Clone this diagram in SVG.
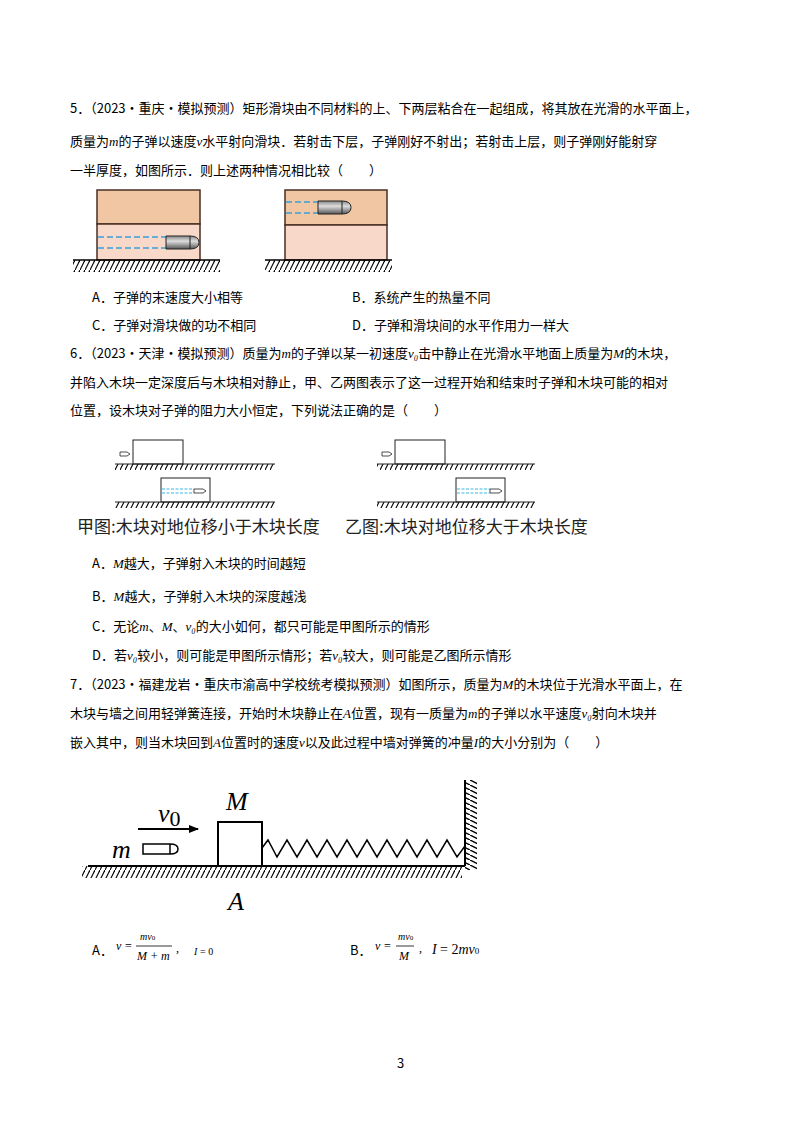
<svg xmlns="http://www.w3.org/2000/svg" width="800" height="1132" viewBox="0 0 800 1132">
<defs>
<style>
.t{font-family:"Noto Sans CJK SC","Noto Sans",sans-serif;font-size:13px;fill:#000}
.c{font-family:"Noto Sans CJK SC",sans-serif;font-size:17px;fill:#222}
.m{font-family:"Liberation Serif",serif;font-style:italic}
.bl{stroke:#4a2f25;stroke-width:1.5}
.ds{stroke:#3aa0d8;stroke-width:1.5;stroke-dasharray:6 3}
.ds2{stroke:#3ab8e0;stroke-width:1;stroke-dasharray:3 1.5}
</style>
<pattern id="h" width="5" height="10" patternUnits="userSpaceOnUse"><line x1="5" y1="0" x2="0" y2="10" stroke="#000" stroke-width="1.2"/></pattern>
<pattern id="hw" width="10" height="5" patternUnits="userSpaceOnUse"><line x1="0" y1="0" x2="10" y2="5" stroke="#000" stroke-width="1.4"/></pattern>
<linearGradient id="g" x1="0" y1="0" x2="0" y2="1"><stop offset="0" stop-color="#888"/><stop offset="0.4" stop-color="#ddd"/><stop offset="1" stop-color="#555"/></linearGradient>
<marker id="ar" markerWidth="10" markerHeight="8" refX="9" refY="4" orient="auto" markerUnits="userSpaceOnUse"><path d="M0,0 L10,4 L0,8 Z" fill="#000"/></marker>
</defs>

<g id="q5text">
<text class="t" x="70" y="113">5．（2023·重庆·模拟预测）矩形滑块由不同材料的上、下两层粘合在一起组成，将其放在光滑的水平面上，</text>
<text class="t" x="70" y="146">质量为<tspan class="m">m</tspan>的子弹以速度<tspan class="m">v</tspan>水平射向滑块．若射击下层，子弹刚好不射出；若射击上层，则子弹刚好能射穿</text>
<text class="t" x="70" y="175">一半厚度，如图所示．则上述两种情况相比较（　　）</text>
</g>
<g id="fig1">
<rect x="97" y="190" width="103" height="34" fill="#f0c7a2" class="bl"/>
<rect x="97" y="224" width="103" height="36" fill="#f8d8c8" class="bl"/>
<line x1="98" y1="237" x2="166" y2="237" class="ds"/><line x1="98" y1="248" x2="166" y2="248" class="ds"/>
<path d="M166,236 h24 q9,0 9,6.5 q0,6.5 -9,6.5 h-24 Z" fill="url(#g)" stroke="#222"/>
<line x1="190" y1="236" x2="190" y2="249" stroke="#222"/>
<rect x="73" y="260" width="147" height="12" fill="url(#h)"/><line x1="73" y1="260" x2="220" y2="260" stroke="#000" stroke-width="1.5"/>
<rect x="285" y="190" width="102" height="35" fill="#f0c7a2" class="bl"/>
<rect x="285" y="225" width="102" height="35" fill="#f8d8c8" class="bl"/>
<line x1="286" y1="202" x2="318" y2="202" class="ds"/><line x1="286" y1="213" x2="318" y2="213" class="ds"/>
<path d="M318,201 h24 q9,0 9,6.5 q0,6.5 -9,6.5 h-24 Z" fill="url(#g)" stroke="#222"/>
<line x1="342" y1="201" x2="342" y2="214" stroke="#222"/>
<rect x="265" y="260" width="127" height="12" fill="url(#h)"/><line x1="265" y1="260" x2="392" y2="260" stroke="#000" stroke-width="1.5"/>
</g>
<g id="q5opts">
<text class="t" x="92" y="302">A．子弹的末速度大小相等</text>
<text class="t" x="352" y="302">B．系统产生的热量不同</text>
<text class="t" x="92" y="330">C．子弹对滑块做的功不相同</text>
<text class="t" x="352" y="330">D．子弹和滑块间的水平作用力一样大</text>
</g>
<g id="q6text">
<text class="t" x="70" y="358">6．（2023·天津·模拟预测）质量为<tspan class="m">m</tspan>的子弹以某一初速度<tspan class="m">v₀</tspan>击中静止在光滑水平地面上质量为<tspan class="m">M</tspan>的木块，</text>
<text class="t" x="70" y="387">并陷入木块一定深度后与木块相对静止，甲、乙两图表示了这一过程开始和结束时子弹和木块可能的相对</text>
<text class="t" x="70" y="415">位置，设木块对子弹的阻力大小恒定，下列说法正确的是（　　）</text>
</g>
<g id="fig2">
<rect x="133" y="440" width="50" height="24" fill="none" stroke="#222"/>
<path d="M120,452 h7 l3,2 l-3,2 h-7 Z" fill="#fff" stroke="#222" stroke-width="0.8"/>
<rect x="115" y="464" width="160" height="6" fill="url(#h)"/><line x1="115" y1="464" x2="275" y2="464" stroke="#222"/>
<rect x="161" y="478" width="49" height="24" fill="none" stroke="#222"/>
<line x1="162" y1="489" x2="194" y2="489" class="ds2"/><line x1="162" y1="493" x2="194" y2="493" class="ds2"/>
<path d="M194,489 h9 l3,2 l-3,2 h-9 Z" fill="#fff" stroke="#222" stroke-width="0.8"/>
<rect x="115" y="502" width="160" height="6" fill="url(#h)"/><line x1="115" y1="502" x2="275" y2="502" stroke="#222"/>
<rect x="395" y="440" width="50" height="24" fill="none" stroke="#222"/>
<path d="M382,452 h7 l3,2 l-3,2 h-7 Z" fill="#fff" stroke="#222" stroke-width="0.8"/>
<rect x="377" y="464" width="158" height="6" fill="url(#h)"/><line x1="377" y1="464" x2="535" y2="464" stroke="#222"/>
<rect x="456" y="478" width="49" height="24" fill="none" stroke="#222"/>
<line x1="457" y1="489" x2="490" y2="489" class="ds2"/><line x1="457" y1="493" x2="490" y2="493" class="ds2"/>
<path d="M490,489 h9 l3,2 l-3,2 h-9 Z" fill="#fff" stroke="#222" stroke-width="0.8"/>
<rect x="377" y="502" width="158" height="6" fill="url(#h)"/><line x1="377" y1="502" x2="535" y2="502" stroke="#222"/>
<text class="c" x="77" y="533">甲图:木块对地位移小于木块长度</text>
<text class="c" x="345" y="533">乙图:木块对地位移大于木块长度</text>
</g>
<g id="q6opts">
<text class="t" x="92" y="568">A．<tspan class="m">M</tspan>越大，子弹射入木块的时间越短</text>
<text class="t" x="92" y="601">B．<tspan class="m">M</tspan>越大，子弹射入木块的深度越浅</text>
<text class="t" x="92" y="631">C．无论<tspan class="m">m</tspan>、<tspan class="m">M</tspan>、<tspan class="m">v₀</tspan>的大小如何，都只可能是甲图所示的情形</text>
<text class="t" x="92" y="660">D．若<tspan class="m">v₀</tspan>较小，则可能是甲图所示情形；若<tspan class="m">v₀</tspan>较大，则可能是乙图所示情形</text>
</g>
<g id="q7text">
<text class="t" x="70" y="689">7．（2023·福建龙岩·重庆市渝高中学校统考模拟预测）如图所示，质量为<tspan class="m">M</tspan>的木块位于光滑水平面上，在</text>
<text class="t" x="70" y="718">木块与墙之间用轻弹簧连接，开始时木块静止在<tspan class="m">A</tspan>位置，现有一质量为<tspan class="m">m</tspan>的子弹以水平速度<tspan class="m">v₀</tspan>射向木块并</text>
<text class="t" x="70" y="747">嵌入其中，则当木块回到<tspan class="m">A</tspan>位置时的速度<tspan class="m">v</tspan>以及此过程中墙对弹簧的冲量<tspan class="m">I</tspan>的大小分别为（　　）</text>
</g>
<g id="fig3">
<rect x="82" y="866" width="380" height="12" fill="url(#h)"/>
<line x1="88" y1="866" x2="465" y2="866" stroke="#000" stroke-width="2"/>
<rect x="465" y="780" width="12" height="90" fill="url(#hw)"/>
<line x1="465" y1="780" x2="465" y2="866" stroke="#000" stroke-width="2"/>
<rect x="218" y="822" width="44" height="44" fill="none" stroke="#000" stroke-width="2"/>
<polyline points="262,848 268,840 277,857 287,840 297,857 307,840 317,857 327,840 337,857 347,840 357,857 367,840 377,857 387,840 397,857 407,840 417,857 427,840 437,857 447,840 457,857 465,846" fill="none" stroke="#000" stroke-width="1.5"/>
<line x1="138" y1="829" x2="198" y2="829" stroke="#000" stroke-width="2" marker-end="url(#ar)"/>
<path d="M143,844 h27 q8,0 8,5 q0,5 -8,5 h-27 Z" fill="#fff" stroke="#000" stroke-width="1.5"/>
<line x1="170" y1="844" x2="170" y2="854" stroke="#000" stroke-width="1.5"/>
<text class="m" x="158" y="822" font-size="26">v<tspan font-style="normal" font-size="22" dy="4">0</tspan></text>
<text class="m" x="226" y="810" font-size="26">M</text>
<text class="m" x="112" y="858" font-size="26">m</text>
<text class="m" x="228" y="910" font-size="26">A</text>
</g>
<g id="q7opts" font-family="Liberation Serif,serif" font-size="12">
<text class="t" x="92" y="955">A．</text>
<text x="116" y="950" class="m">v</text><text x="125" y="950">=</text>
<text x="140" y="940" class="m" font-size="10">mv<tspan font-style="normal" font-size="7">0</tspan></text>
<line x1="136" y1="946" x2="172" y2="946" stroke="#000" stroke-width="0.8"/>
<text x="137" y="960" class="m">M + m</text><text x="176" y="952">,</text>
<text x="194" y="955" class="m" font-size="10">I</text><text x="200" y="955" font-size="10">= 0</text>
<text class="t" x="350" y="955">B．</text>
<text x="375" y="950" class="m">v</text><text x="384" y="950">=</text>
<text x="398" y="940" class="m" font-size="10">mv<tspan font-style="normal" font-size="7">0</tspan></text>
<line x1="396" y1="946" x2="414" y2="946" stroke="#000" stroke-width="0.8"/>
<text x="399" y="960" class="m">M</text><text x="419" y="952">,</text>
<text x="432" y="954" class="m" font-size="14">I</text><text x="440" y="954" font-size="14">= 2<tspan class="m">mv</tspan><tspan font-size="9">0</tspan></text>
</g>
<text class="t" x="397" y="1068" font-size="11">3</text>
</svg>
